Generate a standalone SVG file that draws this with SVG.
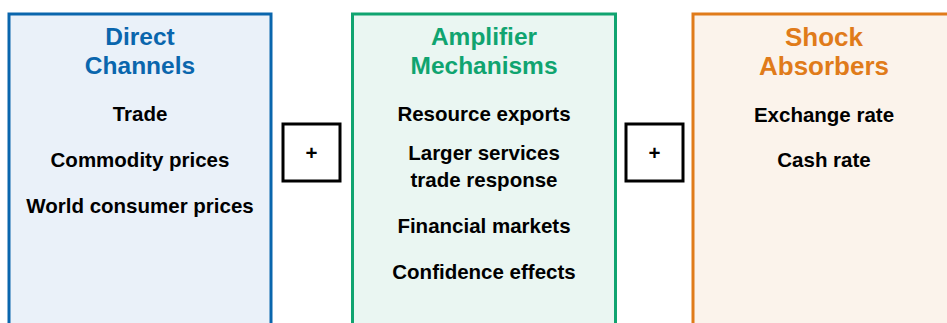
<svg xmlns="http://www.w3.org/2000/svg" width="947" height="323" viewBox="0 0 947 323">
<style>
.box{stroke-width:3}
.t{font-family:"Liberation Sans",Arial,sans-serif;font-weight:bold;font-size:24.5px;text-anchor:middle}
.i{font-family:"Liberation Sans",Arial,sans-serif;font-weight:bold;font-size:20.5px;text-anchor:middle;fill:#000}
.p{fill:#fff;stroke:#000;stroke-width:3}
</style>
<rect width="947" height="323" fill="#fff"/>
<g id="direct">
<rect class="box" x="9" y="14" width="262" height="320" fill="#EAF1F9" stroke="#0A66AD"/>
<text class="t" x="140" y="45" fill="#0A66AD">Direct</text>
<text class="t" x="140" y="74" fill="#0A66AD">Channels</text>
<text class="i" x="140" y="121">Trade</text>
<text class="i" x="140" y="167">Commodity prices</text>
<text class="i" x="140" y="213">World consumer prices</text>
</g>
<g id="amplifier">
<rect class="box" x="352.5" y="14" width="263" height="320" fill="#EAF6F2" stroke="#10A470"/>
<text class="t" x="484" y="45" fill="#10A470">Amplifier</text>
<text class="t" x="484" y="74" fill="#10A470">Mechanisms</text>
<text class="i" x="484" y="121">Resource exports</text>
<text class="i" x="484" y="160">Larger services</text>
<text class="i" x="484" y="187">trade response</text>
<text class="i" x="484" y="233">Financial markets</text>
<text class="i" x="484" y="279">Confidence effects</text>
</g>
<g id="absorbers">
<rect class="box" x="693" y="14" width="263" height="320" fill="#FBF3EB" stroke="#E07B1A"/>
<text class="t" x="824" y="46" fill="#E07B1A" style="font-size:26px">Shock</text>
<text class="t" x="824" y="75" fill="#E07B1A" style="font-size:26px">Absorbers</text>
<text class="i" x="824" y="122">Exchange rate</text>
<text class="i" x="824" y="167">Cash rate</text>
</g>
<g id="connectors">
<g id="plus1">
<rect class="p" x="283" y="124" width="57" height="57"/>
<text class="i" x="311.5" y="160">+</text>
</g>
<g id="plus2">
<rect class="p" x="626" y="124" width="57" height="57"/>
<text class="i" x="654.5" y="160">+</text>
</g>
</g>
</svg>
